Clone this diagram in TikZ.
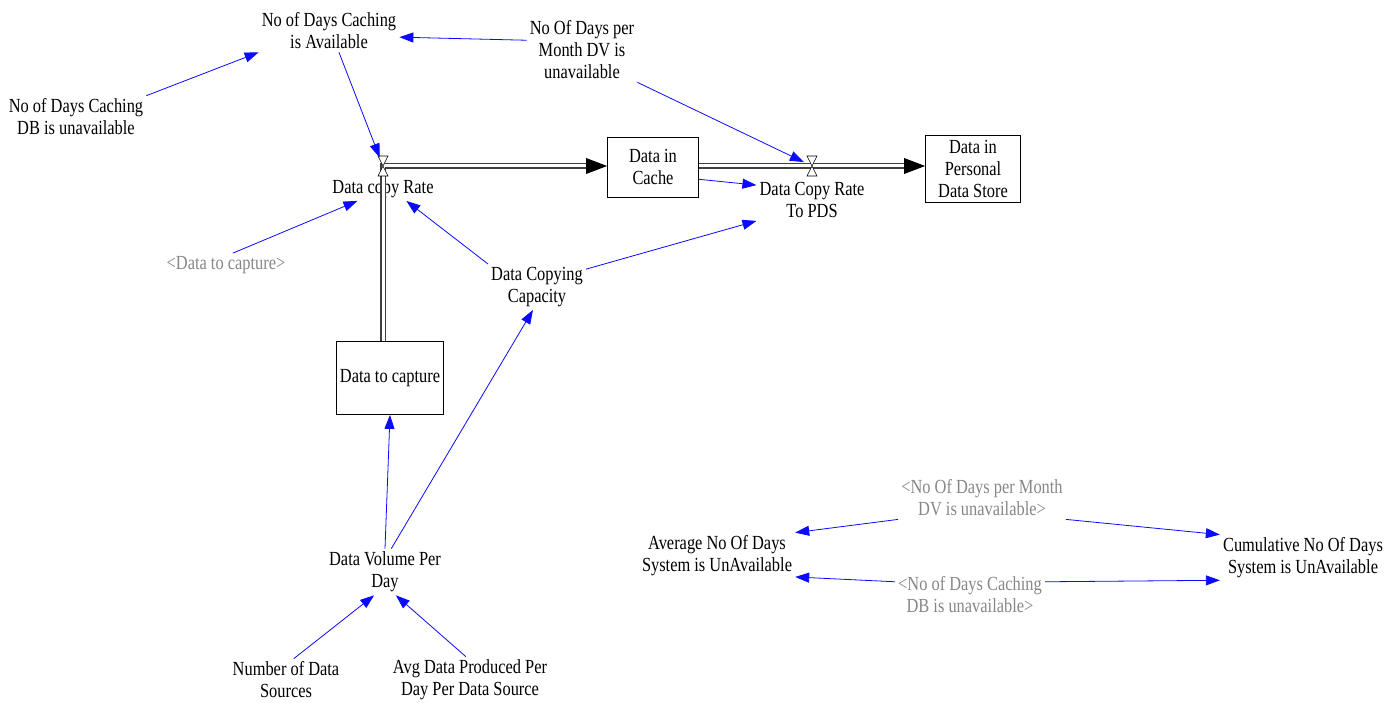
\documentclass[tikz,border=0pt]{standalone}
\usepackage{fontspec}
\setmainfont{Liberation Serif}[FakeStretch=0.82]
\usetikzlibrary{arrows.meta,calc}
\definecolor{linkblue}{RGB}{10,10,255}
\definecolor{ghost}{RGB}{135,135,135}
\tikzset{
  var/.style={align=center, inner sep=3pt, font=\fontsize{20}{22}\selectfont},
  ghostvar/.style={var, text=ghost},
  stock/.style={var, draw, line width=0.8pt},
  link/.style={draw=linkblue, line width=0.8pt, -{Triangle[length=14pt,width=10pt]}},
  pipe/.style={draw=black!75, line width=1.3pt, double=white, double distance=3pt, shorten >=19pt},
}
\begin{document}
\begin{tikzpicture}[x=1pt, y=-1pt]
  \useasboundingbox (0,0) rectangle (1400,703);
  % variables and stocks
  \node[var] (cachavail) at (329,31) {No of Days Caching\\is Available};
  \node[var] (dbunav) at (76,117) {No of Days Caching\\DB is unavailable};
  \node[var] (dvunav) at (582,50) {No Of Days per\\Month DV is\\unavailable};
  \coordinate (v1) at (383,166); \coordinate (v2) at (812,166);
  \node[var] (rate) at (383,189) {Data copy Rate};
  \node[stock, minimum width=91pt, minimum height=60pt] (cache) at (653,167) {Data in\\Cache};
  \node[var] (pdsrate) at (812,200) {Data Copy Rate\\To PDS};
  \node[stock, minimum width=95pt, minimum height=67pt] (pds) at (973,169) {Data in\\Personal\\Data Store};
  \node[ghostvar] (shcap) at (226,265) {<Data to capture>};
  \node[var] (capacity) at (537,287) {Data Copying\\Capacity};
  \node[stock, minimum width=107pt, minimum height=73pt] (capture) at (390,378) {Data to capture};
  \node[var] (volume) at (385,572) {Data Volume Per\\Day};
  \node[var] (numsrc) at (286,680) {Number of Data\\Sources};
  \node[var] (avgdata) at (470,680) {Avg Data Produced Per\\Day Per Data Source};
  \node[ghostvar] (shdv) at (982,498) {<No Of Days per Month\\DV is unavailable>};
  \node[var] (average) at (717,556) {Average No Of Days\\System is UnAvailable};
  \node[ghostvar] (shdb) at (970,595) {<No of Days Caching\\DB is unavailable>};
  \node[var] (cumul) at (1303,558) {Cumulative No Of Days\\System is UnAvailable};
  % flows
  \draw[pipe] (capture.north -| v1) |- (cache.west |- v1);
  \draw[pipe] (cache.east |- v2) -- (pds.west |- v2);
  \foreach \t in {cache,pds} \fill (\t.west |- v1) -- ++(-21,-8) -- ++(0,16) -- cycle;
  \foreach \v in {v1,v2}
    \draw[fill=white, line width=0.6pt] ($(\v)+(-5,-10)$) -- ($(\v)+(5,-10)$) -- ($(\v)+(-5,10)$) -- ($(\v)+(5,10)$) -- cycle;
  % links
  \draw[link] (dbunav.north east) -- (cachavail.south west);
  \draw[link] (dvunav.170) -- (cachavail.-5);
  \draw[link, shorten >=9pt] (cachavail.-65) -- (v1);
  \draw[link, shorten >=9pt] (dvunav.south east) -- (v2);
  \draw[link] (shcap.60) -- (rate.-155);
  \draw[link] (capacity.north west) -- (rate.-27);
  \draw[link] (capacity.20) -- (pdsrate.south west);
  \draw[link] (cache.-15) -- (pdsrate.165);
  \draw[link] (volume.north) -- (capture.south);
  \draw[link] (volume.75) -- (capacity.-100);
  \draw[link] (numsrc.70) -- (volume.-115);
  \draw[link] (avgdata.100) -- (volume.-65);
  \draw[link] (shdv.south west) -- (average.north east);
  \draw[link] (shdv.south east) -- (cumul.north west);
  \draw[link] (shdb.170) -- (average.-15);
  \draw[link] (shdb.10) -- (cumul.-165);
\end{tikzpicture}
\end{document}
